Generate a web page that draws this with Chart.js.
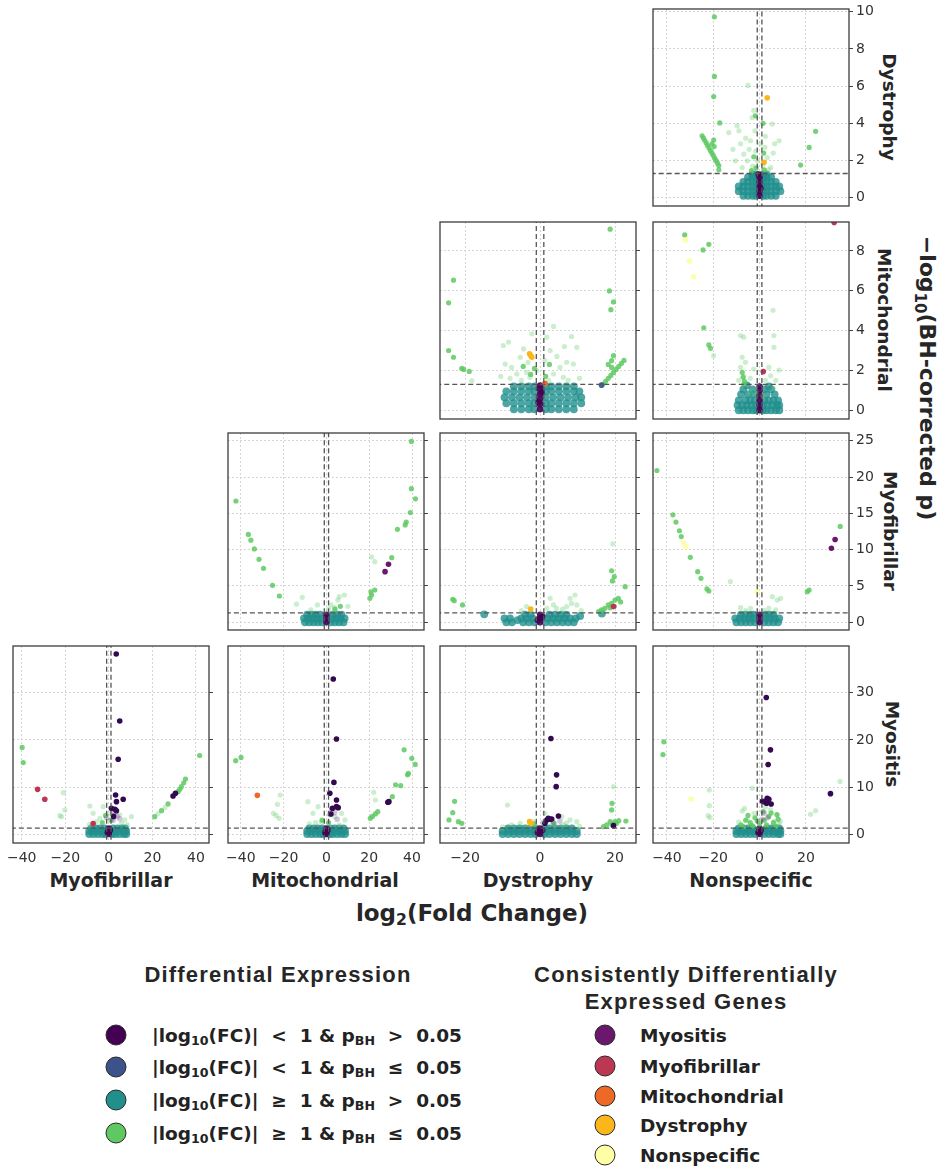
<!DOCTYPE html>
<html>
<head>
<meta charset="utf-8">
<script src="https://cdn.jsdelivr.net/npm/chart.js@4.4.0/dist/chart.umd.min.js"></script>
<style>
  body { margin: 0; background: #fff; }
  #fig { position: relative; width: 942px; height: 1168px; overflow: hidden; font-family: 'DejaVu Sans', sans-serif; color: #262626; }
  canvas { position: absolute; }
  .lbl { position: absolute; font-weight: bold; white-space: nowrap; transform: translate(-50%, -50%); }
  .rot { transform: translate(-50%, -50%) rotate(90deg); }
  sub { font-size: 0.68em; vertical-align: -0.28em; line-height: 0; }
  .ttl { position: absolute; font-family: 'Liberation Sans', sans-serif; font-weight: bold; font-size: 22px; letter-spacing: 1.2px; white-space: nowrap; transform: translate(-50%, -50%); color: #262626; }
  .ent { position: absolute; font-weight: bold; font-size: 18.5px; white-space: nowrap; transform: translateY(-50%); color: #222; }
  .dot { position: absolute; width: 19px; height: 19px; border-radius: 50%; border: 1.5px solid #2a2a2a; transform: translate(-50%, -50%); }
</style>
</head>
<body>
<div id="fig">
  <div class="lbl" style="left:111px;top:880px;font-size:19px">Myofibrillar</div>
  <div class="lbl" style="left:325px;top:880px;font-size:19px">Mitochondrial</div>
  <div class="lbl" style="left:538px;top:880px;font-size:19px">Dystrophy</div>
  <div class="lbl" style="left:751px;top:880px;font-size:19px">Nonspecific</div>

  <div class="lbl rot" style="left:889px;top:107px;font-size:18.5px">Dystrophy</div>
  <div class="lbl rot" style="left:884px;top:320px;font-size:18.5px">Mitochondrial</div>
  <div class="lbl rot" style="left:890px;top:531px;font-size:18.5px">Myofibrillar</div>
  <div class="lbl rot" style="left:892px;top:744px;font-size:18.5px">Myositis</div>

  <div class="lbl rot" style="left:927px;top:378px;font-size:22px">&minus;log<sub>10</sub>(BH-corrected p)</div>
  <div class="lbl" style="left:472px;top:913px;font-size:23px">log<sub>2</sub>(Fold Change)</div>

  <div class="ttl" style="left:278px;top:975px">Differential Expression</div>
  <div class="dot" style="left:116px;top:1035px;background:#440154"></div>
  <div class="dot" style="left:116px;top:1067px;background:#3b528b"></div>
  <div class="dot" style="left:116px;top:1100px;background:#21908d"></div>
  <div class="dot" style="left:116px;top:1133px;background:#5ec962"></div>
  <div class="ent" style="left:152px;top:1035px">|log<sub>10</sub>(FC)| &nbsp;&lt;&nbsp; 1 &amp; p<sub>BH</sub> &nbsp;&gt;&nbsp; 0.05</div>
  <div class="ent" style="left:152px;top:1067px">|log<sub>10</sub>(FC)| &nbsp;&lt;&nbsp; 1 &amp; p<sub>BH</sub> &nbsp;&le;&nbsp; 0.05</div>
  <div class="ent" style="left:152px;top:1100px">|log<sub>10</sub>(FC)| &nbsp;&ge;&nbsp; 1 &amp; p<sub>BH</sub> &nbsp;&gt;&nbsp; 0.05</div>
  <div class="ent" style="left:152px;top:1133px">|log<sub>10</sub>(FC)| &nbsp;&ge;&nbsp; 1 &amp; p<sub>BH</sub> &nbsp;&le;&nbsp; 0.05</div>

  <div class="ttl" style="left:686px;top:975px">Consistently Differentially</div>
  <div class="ttl" style="left:686px;top:1002px">Expressed Genes</div>
  <div class="dot" style="left:605px;top:1035px;background:#6a176e"></div>
  <div class="dot" style="left:605px;top:1066px;background:#bc3754"></div>
  <div class="dot" style="left:605px;top:1096px;background:#ed6925"></div>
  <div class="dot" style="left:605px;top:1125px;background:#fbb61a"></div>
  <div class="dot" style="left:605px;top:1155px;background:#fcffa4"></div>
  <div class="ent" style="left:640px;top:1035px">Myositis</div>
  <div class="ent" style="left:640px;top:1066px">Myofibrillar</div>
  <div class="ent" style="left:640px;top:1096px">Mitochondrial</div>
  <div class="ent" style="left:640px;top:1125px">Dystrophy</div>
  <div class="ent" style="left:640px;top:1155px">Nonspecific</div>
</div>
<script>
// axes: columns share x, rows share y
const xRanges = [[-44, 46], [-46, 45.6], [-26.7, 25.6], [-46, 38.6]];
const yRanges = [[-0.45, 10.15], [-0.44, 9.45], [-1.06, 26.06], [-1.84, 39.9]];
const xTicks = [[-40, -20, 0, 20, 40], [-40, -20, 0, 20, 40], [-20, 0, 20], [-40, -20, 0, 20]];
const yTicks = [[0, 2, 4, 6, 8, 10], [0, 2, 4, 6, 8], [0, 5, 10, 15, 20, 25], [0, 10, 20, 30]];
const FC_CUT = 1;     // log2 fold change threshold
const P_CUT = 1.3;    // -log10(0.05)

// ---- Dystrophy row / Nonspecific column
const dysNonTeal = [
  [-7,0.1],[-5,0.1],[-3,0.1],[-1.5,0.1],[1.5,0.1],[3,0.1],[5,0.1],[7,0.1],
  [-9,0.35],[-7,0.35],[-5,0.35],[-3,0.35],[-1.5,0.35],[1.5,0.35],[3,0.35],[5,0.35],[7,0.35],[9,0.35],
  [-9,0.6],[-7,0.6],[-5,0.6],[-3,0.6],[-1.5,0.6],[1.5,0.6],[3,0.6],[5,0.6],[7,0.6],[8.5,0.6],
  [-7,0.85],[-5,0.85],[-3,0.85],[-1.5,0.85],[1.5,0.85],[3,0.85],[5,0.85],[7,0.85],
  [-5,1.1],[-3,1.1],[-1.5,1.1],[1.5,1.1],[3,1.1],[5,1.1],
  [-3,1.25],[-1.5,1.25],[1.5,1.25],[3,1.25]
];
const dysNonCore = [[0,0.1],[0,0.35],[0,0.6],[0,0.85],[0,1.1],[-0.4,1.25],[0.4,0.5]];
const dysNonFaint = [
  [-5,6.04],[-13.3,3.5],[-9.7,3.87],[-8.9,3.6],[-8.2,2.9],[-6.8,2.34],[-5.3,1.98],[-3.9,3.06],
  [-3.2,4.3],[-2.5,4.7],[-1.7,2.5],[2.3,2.7],[3.3,2.16],[5.5,3.96],[8.4,3.06],[5.9,2.4],[4.8,1.62],
  [-7.5,1.62],[-10.4,1.98],[-1,2],[-4.5,2.6],[-3,1.7],[1.5,1.8],[2.5,3.3],[6.5,2.9],[-6,3.2],
  [-11.5,2.6],[-2,3.6],[0.5,2.9],[3.8,1.5]
];
const dysNonGreen = [
  [-19.5,9.73],[-19.5,6.52],[-19.8,5.44],[-17.2,4.02],[24.2,3.57],[21.4,2.7],[17.7,1.75],
  [-24.8,3.33],[-24.2,3.2],[-23.6,3.07],[-23,2.94],[-22.4,2.8],[-21.8,2.67],[-21.2,2.53],[-20.6,2.4],
  [-20,2.27],[-19.4,2.13],[-18.8,2],[-18.2,1.87],[-17.6,1.73],[-17.6,1.5],[-20.5,2.9],[-19.8,3.1],
  [-19.6,2.75],[-2.5,2.2],[-1.5,1.6],[1.8,2.4],[2,1.5],[-3.5,1.45],[-1.8,4.4],[1.5,4]
];
const dysNonDys = [[3.3,5.37],[1.9,1.9]];

// ---- Mitochondrial row / Dystrophy column
const mitDysTeal = [
  [-7,0.05],[-5,0.05],[-3,0.05],[-1.5,0.05],[1.5,0.05],[3,0.05],[5,0.05],[7,0.05],[9,0.05],
  [-9,0.35],[-7,0.35],[-5,0.35],[-3,0.35],[-1.5,0.35],[1.5,0.35],[3,0.35],[5,0.35],[7,0.35],[9,0.35],[11,0.35],
  [-9.5,0.65],[-7.5,0.65],[-5.5,0.65],[-3.5,0.65],[-1.5,0.65],[1.5,0.65],[3.5,0.65],[5.5,0.65],[7.5,0.65],[9.5,0.65],[11,0.65],
  [-9,0.95],[-7,0.95],[-5,0.95],[-3,0.95],[-1.5,0.95],[1.5,0.95],[3,0.95],[5,0.95],[7,0.95],[9,0.95],[10.5,0.95],
  [-7,1.2],[-5,1.2],[-3,1.2],[-1.5,1.2],[1.5,1.2],[3,1.2],[5,1.2],[7,1.2],[9,1.2]
];
const mitDysCore = [[0,0.05],[0,0.3],[0,0.55],[0,0.8],[0,1.05],[0,1.25],[-0.4,0.4],[0.4,0.9]];
const mitDysFaint = [
  [-9.8,3.25],[-8.4,3.42],[-5.3,2.66],[-7.6,2.15],[-9.3,2.32],[-4.4,3.08],[-2.2,3.84],[3.6,4.21],
  [1.8,3.67],[2.7,3],[5.3,2.15],[7.1,2.41],[8.9,2.32],[9.8,3.16],[8.4,3.7],[-6.2,1.82],[-3.6,1.9],
  [3.6,1.82],[6.2,1.65],[-0.9,1.99],[-18.2,1.48],[-2.7,1.65],[1.3,2.49],[-8,1.6],[-5,1.5],[4.5,2.7],
  [6.5,3.2],[10.5,1.6],[-10.5,1.7],[-3.2,2.4],[2.3,1.5],[7.5,1.5]
];
const mitDysGreen = [
  [-23.1,6.53],[-24.4,5.39],[-24.4,3],[-23.1,2.66],[-20.9,2.1],[-20.4,2.05],[-18.9,1.95],
  [18.7,9.09],[18.5,5.99],[19.6,5.44],[18.9,5.05],[19.6,2.74],[19.1,2.49],
  [16.7,1.3],[17.5,1.45],[18.2,1.6],[18.9,1.75],[19.6,1.9],[20.3,2.05],[21,2.2],[21.7,2.35],[22.4,2.5],
  [18.2,2.3],[19.1,2.15],[-1.5,2.1],[-2.5,1.8],[1.5,1.7],[-4.5,2.2],[2.5,2.3]
];
const mitDysBlue = [[16.4,1.26]];
const mitDysDys = [[-2.8,2.83],[-2.2,2.66],[-2.5,2.75]];
const mitDysMit = [[1.3,1.35]];

// ---- Mitochondrial row / Nonspecific column
const mitNonTeal = [
  [-9,0],[-7,0],[-5,0],[-3,0],[-1.5,0],[1.5,0],[3,0],[5,0],[7,0],[8.5,0],
  [-9.5,0.25],[-7.5,0.25],[-5.5,0.25],[-3.5,0.25],[-1.5,0.25],[1.5,0.25],[3.5,0.25],[5.5,0.25],[7.5,0.25],[8.5,0.25],
  [-9,0.5],[-6,0.5],[-4,0.5],[-2,0.5],[2,0.5],[4,0.5],[6,0.5],[8,0.5],
  [-8,0.8],[-5,0.8],[-2.5,0.8],[3,0.8],[6.5,0.8],
  [-7,1.05],[-3,1.05],[2,1.05],[5,1.05],
  [-5.5,1.25],[4,1.2]
];
const mitNonCore = [[0,0],[0,0.25],[0,0.5],[0,0.75],[0,1],[0,1.2]];
const mitNonFaint = [
  [-8.2,3.75],[-6.8,3.67],[5.8,5.02],[6.2,3.75],[6.2,3.16],[8.4,2.02],[-7.5,2.66],[-6.1,2.41],
  [-2.5,2.07],[4,2.15],[-8.2,2.15],[-6.8,1.73],[4.8,1.73],[-19.8,2.74],[-4,1.6],[2.5,1.5],[7,1.5],[-9,1.5],
  [-4,0.9],[6,1.1],[-1.5,0.9],[1.5,0.7]
];
const mitNonGreen = [
  [-32.3,8.8],[-24.4,8.05],[-21.9,8.33],[-24.1,4.14],[-21.9,3.28],[-21.2,3.11],
  [-7.1,1.65],[-6.8,1.31],[-7.5,1.9],[-6.5,1.45]
];
const mitNonNon = [[-32,8.55],[-30.2,7.49],[-28.4,6.7]];
const mitNonFib = [[32.2,9.43],[1.6,1.94]];

// ---- Myofibrillar row / Mitochondrial column
const fibMitTeal = [
  [-10,0],[-8,0],[-6,0],[-4,0],[-2,0],[2,0],[4,0],[6,0],[8,0],
  [-10.5,0.55],[-8.5,0.55],[-6.5,0.55],[-4.5,0.55],[-2.5,0.55],[2.5,0.55],[4.5,0.55],[6.5,0.55],[8.5,0.55],
  [-9,1.05],[-7,1.05],[-5,1.05],[-3,1.05],[3,1.05],[5,1.05],[7,1.05]
];
const fibMitCore = [[0,0],[0,0.55],[0,1.05]];
const fibMitFaint = [
  [-11.3,3.44],[21.1,9],[22.6,8.35],[5.3,3.07],[8.4,3.76],[6,3.53],[2.1,2.39],[-4.2,2.39],
  [-7.3,1.7],[3.7,2.02],[-14,2.5],[10,2.2],[1,1.8]
];
const fibMitGreen = [
  [-42.3,16.7],[-36.5,12.1],[-35.3,11.3],[-33.7,10.1],[-31.5,8.67],[-29.4,7.43],[-25.2,5.09],[-22,3.62],
  [39.7,24.9],[39.7,18.4],[41.6,17],[39.2,15.1],[37.3,13.8],[36.8,13.4],[33.2,12.8],[30.5,8.9],
  [20.8,4.2],[21.1,3.76],[20.3,3.3],[22.6,4.45],[4,1.8],[6.5,2.2]
];
const fibMitSit = [[29,8],[27.4,6.97]];

// ---- Myofibrillar row / Dystrophy column
const fibDysTeal = [
  [-9,0],[-7.5,0],[-4.5,0],[-3,0],[-1.5,0],[1.5,0],[3,0],[4.5,0],[6,0],[7.5,0],[9,0],
  [-9.5,0.55],[-8,0.55],[-5,0.55],[-3.5,0.55],[-2,0.55],[2,0.55],[3.5,0.55],[5,0.55],[6.5,0.55],[8,0.55],[9.5,0.55],
  [-4,1.05],[-2.5,1.05],[2.5,1.05],[4,1.05],[5.5,1.05],[7,1.05],
  [10.7,0.87],[-14.9,1.1],[16.5,1.2],[-6,0.3]
];
const fibDysCore = [[0,0],[0,0.55],[0,1.05],[-0.6,0.3],[0.6,0.8]];
const fibDysFaint = [
  [2.7,3.3],[3.6,2.39],[8,3.3],[8.4,2.6],[7.1,2.16],[9.3,3.76],[-3.6,2.16],[1.8,1.93],[4.4,1.93],
  [9.8,2.39],[19.4,10.8],[-5,1.6],[6,1.8],[11,1.6]
];
const fibDysGreen = [
  [-23.3,3.17],[-22.9,2.98],[-20.7,2.39],[19.1,7.1],[19.8,6.28],[19.3,5.69],[22.7,4.9],
  [18.2,2.39],[19.1,2.6],[20,3.07],[20.9,3.3],[17.3,1.93],[16.4,1.7],[15.6,1.47],[18.7,2.02],[21.5,2.8],[19.8,2.2]
];
const fibDysFib = [[19.6,2.16]];
const fibDysDys = [[-2.5,1.83]];

// ---- Myofibrillar row / Nonspecific column
const fibNonTeal = [
  [-10,0],[-8,0],[-6,0],[-4,0],[-2,0],[2,0],[4,0],[6,0],[8,0],
  [-10.5,0.55],[-8.5,0.55],[-6.5,0.55],[-4.5,0.55],[-2.5,0.55],[2.5,0.55],[4.5,0.55],[6.5,0.55],[8.5,0.55],
  [-8,1.05],[-6,1.05],[-4,1.05],[-2.5,1.05],[2.5,1.05],[4,1.05],[6,1.05]
];
const fibNonCore = [[0,0],[0,0.55],[0,1.05]];
const fibNonFaint = [
  [-12.6,5.6],[5.5,3.53],[7.6,3.07],[9.1,3.3],[-8.2,2.02],[-3.9,1.93],[4,1.93],[-6,1.6],[2,1.6],[7,1.7]
];
const fibNonGreen = [
  [-44.3,20.9],[-37.4,14.8],[-36.1,13.8],[-34.6,12.6],[-33.8,11.8],[-29.9,8.94],[-26.7,6.97],
  [-25.3,6.06],[-22.7,4.59],[-21.9,4.31],[34.8,13.2],[20.6,4.22],[21.4,4.45]
];
const fibNonNon = [[-32.8,10.9],[-31.7,10.4],[-1,4.2]];
const fibNonSit = [[31,10.2],[32.6,11.4]];

// ---- Myositis row / Myofibrillar column
const sitFibTeal = [
  [-9,0.05],[-7,0.05],[-5,0.05],[-3,0.05],[-1.5,0.05],[1.5,0.05],[3,0.05],[5,0.05],[7,0.05],[8,0.05],
  [-9,0.7],[-7,0.7],[-5,0.7],[-3,0.7],[-1.5,0.7],[1.5,0.7],[3,0.7],[5,0.7],[7,0.7],[8,0.7],
  [-8,1.25],[-6,1.25],[-4,1.25],[-2,1.25],[2,1.25],[4,1.25],[6,1.25],[7.5,1.25]
];
const sitFibCore = [[0,0.05],[0,0.7],[0,1.25],[-0.5,0.4],[0.5,0.9]];
const sitFibFaint = [
  [-20.9,8.83],[-20.2,5.16],[-22.5,3.95],[-21.7,3.74],[-8.7,6],[-7.2,4.45],[-2.6,5.86],[5,4.1],
  [7.3,3.04],[10.4,3.74],[-4.1,3.39],[-5.7,2.68],[5.8,2.33],[0.5,4.45],[-9,2],[8.5,2],[22.6,4.4],[25.8,5.7]
];
const sitFibGreen = [
  [-39.8,18.4],[-39.3,15.2],[41.7,16.7],[21.1,3.74],[24.2,5.01],[27.2,6.43],[31.8,9.04],[33.3,10.1],
  [34.4,10.9],[35.2,11.7],[32.6,9.53],[-3,2.5],[1,3],[-1.5,4]
];
const sitFibLav = [[2.5,4.6],[3.8,3.8],[2,3],[5,3.3],[-1,3.5]];
const sitFibDeep = [
  [3.4,38.2],[5,24],[4.3,15.9],[3.1,8.33],[3.5,6.92],[6.6,7.42],[1.2,5.51],[2.8,5.3],[3.5,5],
  [29.5,8.12],[30.6,8.69],[2.2,3.8]
];
const sitFibFib = [[-32.7,9.53],[-29.4,7.42],[-7.2,2.3]];

// ---- Myositis row / Mitochondrial column
const sitMitTeal = [
  [-9,0.05],[-7,0.05],[-5,0.05],[-3,0.05],[-1.5,0.05],[1.5,0.05],[3,0.05],[5,0.05],[7,0.05],[8.7,0.05],
  [-9,0.7],[-7,0.7],[-5,0.7],[-3,0.7],[-1.5,0.7],[1.5,0.7],[3,0.7],[5,0.7],[7,0.7],[8.7,0.7],
  [-8,1.25],[-6,1.25],[-4,1.25],[-2,1.25],[2,1.25],[4,1.25],[6,1.25],[8,1.25]
];
const sitMitCore = [[0,0.05],[0,0.7],[0,1.25],[-0.5,0.4],[0.5,0.9]];
const sitMitFaint = [
  [-21.6,8.33],[-22.9,6.36],[-24.8,4.45],[-22.1,3.39],[-23.5,4],[22.1,8.9],[22.9,7.27],[-8.7,6.92],
  [-6.3,4.45],[-3.9,5.86],[3.9,3.74],[7.1,4.45],[8.7,3.04],[-2.4,2.68],[-8,2.2],[6,2],[-5,2.5]
];
const sitMitGreen = [
  [-42.4,15.6],[-39.9,16.3],[36.3,17.9],[39.9,16.1],[41.5,14.8],[38.3,12.9],[37.9,12.6],[32.3,10.5],
  [34.7,10.3],[30.8,7.98],[22.9,4.31],[20.5,3.39],[21.5,3.8],[24,4.8],[-2,3],[1,2.5]
];
const sitMitLav = [[2.5,5.2],[1.6,4.2],[3.8,4.6],[5,3.2]];
const sitMitDeep = [
  [3.2,32.9],[4.7,20.2],[3.5,11],[1.6,8.69],[4.7,7.27],[4.7,5.86],[5.5,5.65],[2.8,5.51],[2.1,4.31],
  [28.7,6.78],[29.2,6.92]
];
const sitMitMit = [[-32.3,8.26]];

// ---- Myositis row / Dystrophy column
const sitDysTeal = [
  [-10,0.05],[-8.5,0.05],[-7,0.05],[-5.5,0.05],[-4,0.05],[-2.5,0.05],[-1.2,0.05],[1.2,0.05],[2.5,0.05],[4,0.05],[5.5,0.05],[7,0.05],[8.5,0.05],[9.8,0.05],
  [-10,0.7],[-8.5,0.7],[-7,0.7],[-5.5,0.7],[-4,0.7],[-2.5,0.7],[-1.2,0.7],[1.2,0.7],[2.5,0.7],[4,0.7],[5.5,0.7],[7,0.7],[8.5,0.7],[9.8,0.7],
  [-8.5,1.25],[-7,1.25],[-5.5,1.25],[-4,1.25],[-2.5,1.25],[-1.2,1.25],[1.2,1.25],[2.5,1.25],[4,1.25],[5.5,1.25],[7,1.25],[8.5,1.25]
];
const sitDysCore = [[0,0.05],[0,0.7],[0,1.25],[-0.6,0.4],[0.6,0.9]];
const sitDysFaint = [
  [19.6,10.1],[-8.7,6.21],[-7.6,1.98],[-1.8,2.68],[1.3,4.45],[5.8,3.74],[8,3.04],[9.8,2.68],[-5.3,2.33],
  [6.2,1.98],[-3.5,1.6],[10.5,1.7],[-10,1.6],[4,2],[7,2.4]
];
const sitDysGreen = [
  [-22.8,6.99],[-23.3,4.59],[-24.3,3.04],[-21.8,2.68],[-20.9,2.33],[19.2,6.57],[19.1,5.16],[22.9,2.82],
  [18.7,2.68],[20,2.68],[20.4,2.33],[17.8,1.98],[16.9,1.62],[19.2,2.1],[21,2.9],[-1.5,2.2],[3.5,2.5]
];
const sitDysLav = [[0.8,2.5],[3.7,2.4],[5.3,2.8]];
const sitDysDeep = [
  [2.9,20.3],[4.4,12.6],[4.3,10.1],[4.9,3.88],[1.8,3.04],[2.2,3.39],[2.7,3.2],[1.3,2.33],[3.1,3.25],[19.6,1.84]
];
const sitDysDys = [[-2.8,2.68],[-2.4,2.3]];

// ---- Myositis row / Nonspecific column
const sitNonTeal = [
  [-10,0.05],[-8,0.05],[-6,0.05],[-4,0.05],[-2,0.05],[2,0.05],[4,0.05],[6,0.05],[8,0.05],[9,0.05],
  [-10,0.7],[-8,0.7],[-6,0.7],[-4,0.7],[-2,0.7],[2,0.7],[4,0.7],[6,0.7],[8,0.7],[9,0.7],
  [-9,1.25],[-7,1.25],[-5,1.25],[-3,1.25],[3,1.25],[5,1.25],[7,1.25],[8.5,1.25]
];
const sitNonCore = [[0,0.05],[0,0.7],[0,1.25],[-0.5,0.4],[0.5,0.9]];
const sitNonFaint = [
  [34.7,11.2],[22,4.24],[24.2,5],[-21.7,9.39],[-21.7,6.07],[-22.2,3.95],[-21.4,3.53],[-7.5,4.94],
  [-3.2,9.75],[4.7,5.16],[7.6,4.1],[-5.3,3.04],[-2.4,4.45],[6.2,2.68],[-3.9,1.98],[8.3,2.33],
  [-9,2.6],[9,2.8],[-6.5,5.5],[2.5,5.8]
];
const sitNonGreen = [
  [-41.3,19.6],[-41.7,16.9],[-8,2],[-6,3],[-4,2.5],[-2,3.5],[2,3],[4,3.8],[6,2.5],[8,3.2],[-7,1.6],
  [7,1.7],[0,2.2],[3,2],[-5,4],[5,4.5],[-3,1.8],[1.5,4.8],[-1,2.8],[7.5,4.2]
];
const sitNonLav = [[2,4.5],[3.5,3.5],[1,3.2]];
const sitNonDeep = [
  [2.9,29],[4.7,17.9],[3.7,14.8],[3.3,7.63],[4,7.42],[1.9,6.92],[3,6.57],[5,6.43],[30.6,8.62],[1.2,7]
];
const sitNonNon = [[-29.5,7.49]];

// colours
const TEAL = 'rgba(33,144,141,0.8)';
const CORE = 'rgba(68,1,84,0.9)';
const FAINT = 'rgba(94,201,98,0.32)';
const GREEN = 'rgba(94,201,98,0.85)';
const BLUE = 'rgba(59,82,139,0.9)';
const LAV = 'rgba(115,70,150,0.32)';
const DEEP = '#33094f';
const C_SIT = '#6a176e', C_FIB = '#bc3754', C_MIT = '#ed6925', C_DYS = '#fbb61a', C_NON = 'rgba(252,255,164,0.95)';
const GRID = '#d2d2d2';

const panels = [
  {row: 0, col: 3, teal: dysNonTeal, core: dysNonCore, faint: dysNonFaint, green: dysNonGreen, marks: [[C_DYS, dysNonDys]]},
  {row: 1, col: 2, teal: mitDysTeal, core: mitDysCore, faint: mitDysFaint, green: mitDysGreen, marks: [[BLUE, mitDysBlue], [C_DYS, mitDysDys], [C_MIT, mitDysMit]]},
  {row: 1, col: 3, teal: mitNonTeal, core: mitNonCore, faint: mitNonFaint, green: mitNonGreen, marks: [[C_NON, mitNonNon], [C_FIB, mitNonFib]]},
  {row: 2, col: 1, teal: fibMitTeal, core: fibMitCore, faint: fibMitFaint, green: fibMitGreen, marks: [[C_SIT, fibMitSit]]},
  {row: 2, col: 2, teal: fibDysTeal, core: fibDysCore, faint: fibDysFaint, green: fibDysGreen, marks: [[C_FIB, fibDysFib], [C_DYS, fibDysDys]]},
  {row: 2, col: 3, teal: fibNonTeal, core: fibNonCore, faint: fibNonFaint, green: fibNonGreen, marks: [[C_NON, fibNonNon], [C_SIT, fibNonSit]]},
  {row: 3, col: 0, teal: sitFibTeal, core: sitFibCore, faint: sitFibFaint, green: sitFibGreen, marks: [[LAV, sitFibLav], [DEEP, sitFibDeep], [C_FIB, sitFibFib]]},
  {row: 3, col: 1, teal: sitMitTeal, core: sitMitCore, faint: sitMitFaint, green: sitMitGreen, marks: [[LAV, sitMitLav], [DEEP, sitMitDeep], [C_MIT, sitMitMit]]},
  {row: 3, col: 2, teal: sitDysTeal, core: sitDysCore, faint: sitDysFaint, green: sitDysGreen, marks: [[LAV, sitDysLav], [DEEP, sitDysDeep], [C_DYS, sitDysDys]]},
  {row: 3, col: 3, teal: sitNonTeal, core: sitNonCore, faint: sitNonFaint, green: sitNonGreen, marks: [[LAV, sitNonLav], [DEEP, sitNonDeep], [C_NON, sitNonNon]]}
];

// layout of the grid of panels
const PW = 196, PH = 197;
const colLeft = [13, 228, 440, 653];
const rowTop = [9, 222, 433, 646];

const toPts = a => a.map(p => ({x: p[0], y: p[1]}));
const fmt = v => (v < 0 ? '\u2212' + (-v) : String(v));

const framePlugin = {
  id: 'frame',
  afterDraw(chart) {
    const {ctx, chartArea: a} = chart;
    ctx.save();
    ctx.strokeStyle = '#3c3c3c';
    ctx.lineWidth = 1.3;
    ctx.strokeRect(a.left, a.top, a.right - a.left, a.bottom - a.top);
    ctx.restore();
  }
};

const fig = document.getElementById('fig');

function makePanel(p) {
  const lastCol = p.col === 3, lastRow = p.row === 3;
  // generous padding so the label overflow of the right axis never shrinks the plot area
  const padL = 14, padT = 12;
  const padB = lastRow ? 0 : 12;
  const rightW = lastCol ? 40 : 6;
  const bottomH = lastRow ? 28 : 0;
  const cv = document.createElement('canvas');
  cv.width = padL + PW + rightW;
  cv.height = padT + PH + bottomH + padB;
  cv.style.left = (colLeft[p.col] - padL) + 'px';
  cv.style.top = (rowTop[p.row] - padT) + 'px';
  fig.appendChild(cv);

  const [xmin, xmax] = xRanges[p.col];
  const [ymin, ymax] = yRanges[p.row];
  const sets = [];
  const scatter = (data, color, r, order) => sets.push({
    data: toPts(data), backgroundColor: color, borderWidth: 0,
    pointRadius: r, pointHoverRadius: r, order: order
  });
  scatter(p.teal, TEAL, 3.9, 20);
  scatter(p.core, CORE, 3.2, 19);
  scatter(p.faint, FAINT, 2.6, 18);
  scatter(p.green, GREEN, 2.6, 17);
  p.marks.forEach((m, i) => scatter(m[1], m[0], 2.8, 16 - i));

  const cut = data => sets.push({
    data: data, showLine: true, borderColor: '#555', borderWidth: 1.3,
    borderDash: [5, 3], pointRadius: 0, fill: false, order: 1
  });
  cut([{x: -FC_CUT, y: ymin - 1}, {x: -FC_CUT, y: ymax + 1}]);
  cut([{x: FC_CUT, y: ymin - 1}, {x: FC_CUT, y: ymax + 1}]);
  cut([{x: xmin - 1, y: P_CUT}, {x: xmax + 1, y: P_CUT}]);

  const tickFont = {family: 'DejaVu Sans', size: 14};
  new Chart(cv, {
    type: 'scatter',
    data: {datasets: sets},
    options: {
      responsive: false,
      animation: false,
      events: [],
      layout: {padding: {left: padL, top: padT, right: 0, bottom: padB}, autoPadding: false},
      plugins: {legend: {display: false}, tooltip: {enabled: false}},
      scales: {
        x: {
          type: 'linear', min: xmin, max: xmax,
          afterBuildTicks: s => { s.ticks = xTicks[p.col].map(v => ({value: v})); },
          afterFit: s => { s.height = bottomH; },
          grid: {color: GRID, lineWidth: 0.9, drawTicks: false},
          border: {display: false, dash: [2, 2]},
          ticks: {display: lastRow, padding: 7, color: '#333', font: tickFont, maxRotation: 0, autoSkip: false, callback: fmt}
        },
        y: {
          type: 'linear', position: 'right', min: ymin, max: ymax,
          afterBuildTicks: s => { s.ticks = yTicks[p.row].map(v => ({value: v})); },
          afterFit: s => { s.width = rightW; },
          grid: {color: GRID, lineWidth: 0.9, drawTicks: true, tickLength: 4, tickColor: '#444', tickWidth: 1, tickBorderDash: []},
          border: {display: false, dash: [2, 2]},
          ticks: {display: lastCol, padding: 3, color: '#333', font: tickFont, autoSkip: false, callback: fmt}
        }
      }
    },
    plugins: [framePlugin]
  });
}

panels.forEach(makePanel);
</script>
</body>
</html>
